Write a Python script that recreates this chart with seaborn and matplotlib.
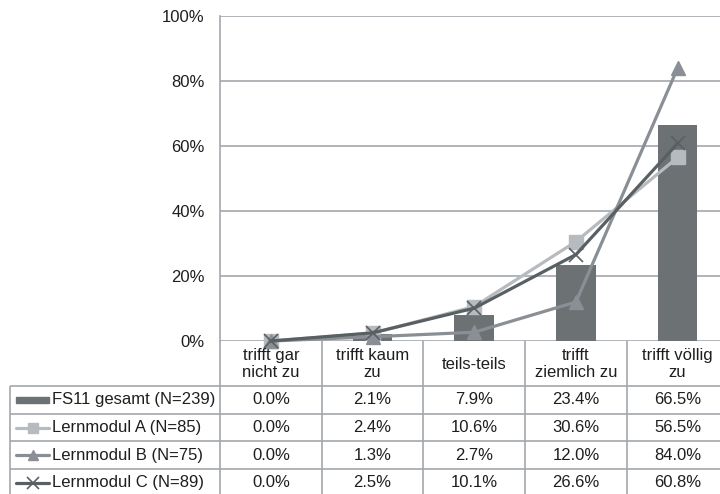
import numpy as np
import pandas as pd
import matplotlib
matplotlib.use("Agg")
import matplotlib.pyplot as plt
from matplotlib.patches import Rectangle
import seaborn as sns

# categories (header of the data table)
categories = ["trifft gar\nnicht zu", "trifft kaum\nzu", "teils-teils",
              "trifft\nziemlich zu", "trifft völlig\nzu"]

# series values in percent
fs11 = [0.0, 2.1, 7.9, 23.4, 66.5]
modul_a = [0.0, 2.4, 10.6, 30.6, 56.5]
modul_b = [0.0, 1.3, 2.7, 12.0, 84.0]
modul_c = [0.0, 2.5, 10.1, 26.6, 60.8]

series_names = ["FS11 gesamt (N=239)", "Lernmodul A (N=85)",
                "Lernmodul B (N=75)", "Lernmodul C (N=89)"]
yticks = [0, 20, 40, 60, 80, 100]

BAR = "#6c7174"
COL_A = "#b7bbbf"
COL_B = "#898f95"
COL_C = "#596064"
GRID = "#a3a7ab"
TXT = "#1e1e1e"

sns.set_style("white")
plt.rcParams["font.family"] = ["Liberation Sans", "DejaVu Sans"]
FS = 12

W, H = 720, 494
fig = plt.figure(figsize=(W / 100, H / 100), dpi=100)

# plot area in pixels
x0, x1 = 220, 728.5
y_top, y_zero = 16, 341
ax = fig.add_axes([x0 / W, 1 - y_zero / H, (x1 - x0) / W, (y_zero - y_top) / H])

pos = np.arange(len(categories))
df = pd.DataFrame({"pos": pos, "val": np.array(fs11) / 100})
sns.barplot(data=df, x="pos", y="val", color=BAR, width=0.39, saturation=1,
            ax=ax, zorder=2, edgecolor="none")

line_styles = [
    (modul_a, COL_A, "s", 9.5, 1.0),
    (modul_b, COL_B, "^", 10, 1.0),
    (modul_c, COL_C, "x", 10.5, 1.2),
]
for vals, col, mk, ms, mew in line_styles:
    sns.lineplot(x=pos, y=np.array(vals) / 100, color=col, marker=mk,
                 markersize=ms, markeredgewidth=mew, markeredgecolor=col,
                 linewidth=2.3, ax=ax, zorder=3, clip_on=False)

ax.set_xlim(-0.5, len(categories) - 0.5)
ax.set_ylim(0, 1)
ax.set_yticks([t / 100 for t in yticks])
ax.set_yticklabels([f"{t}%" for t in yticks], fontsize=FS, color=TXT)
ax.tick_params(axis="y", length=3.6, width=1.2, color=GRID, pad=7.5)
ax.set_xticks([])
ax.set_xlabel("")
ax.set_ylabel("")
ax.grid(axis="y", color=GRID, linewidth=1.2, zorder=0)
ax.set_axisbelow(True)
for s in ["top", "right", "bottom"]:
    ax.spines[s].set_visible(False)
ax.spines["left"].set_color(GRID)
ax.spines["left"].set_linewidth(1.2)

# data table below the plot
cw = (x1 - x0) / len(categories)
row_px = 27.7
head_px = 45
tl = 10
bottom_px = y_zero + head_px + row_px * len(series_names)
axt = fig.add_axes([tl / W, 1 - bottom_px / H, (x1 - tl) / W, (bottom_px - y_zero) / H])
xl = -0.5 - (x0 - tl) / cw
hh = head_px / row_px
axt.set_xlim(xl, len(categories) - 0.5)
axt.set_ylim(hh + len(series_names), 0)
axt.axis("off")

lkw = dict(color=GRID, linewidth=1.2, clip_on=False, solid_capstyle="butt")
for k in range(len(categories) + 1):
    axt.plot([k - 0.5, k - 0.5], [0, hh + len(series_names)], **lkw)
axt.plot([xl, xl], [hh, hh + len(series_names)], **lkw)
for r in range(len(series_names) + 1):
    axt.plot([xl, len(categories) - 0.5], [hh + r, hh + r], **lkw)

for i, c in enumerate(categories):
    axt.text(i, hh / 2 + 0.03, c, ha="center", va="center", fontsize=FS,
             color=TXT, linespacing=1.15)

table_rows = [fs11, modul_a, modul_b, modul_c]
for r, vals in enumerate(table_rows):
    yc = hh + r + 0.5
    for i, v in enumerate(vals):
        axt.text(i, yc, f"{v:.1f}%", ha="center", va="center",
                 fontsize=FS, color=TXT)
    axt.text(xl + 42 / cw, yc, series_names[r], ha="left", va="center",
             fontsize=FS, color=TXT)

# legend keys
k0, k1 = xl + 6 / cw, xl + 39 / cw
axt.add_patch(Rectangle((k0, hh + 0.5 - 0.11), k1 - k0, 0.22, color=BAR,
                        clip_on=False))
for r, (vals, col, mk, ms, mew) in enumerate(line_styles, start=1):
    yc = hh + r + 0.5
    axt.plot([k0, k1], [yc, yc], color=col, linewidth=2.3, clip_on=False)
    axt.plot([(k0 + k1) / 2], [yc], color=col, marker=mk, markersize=ms - 2.5,
             markeredgewidth=mew, markeredgecolor=col, clip_on=False)

fig.savefig("out.png", dpi=100)
